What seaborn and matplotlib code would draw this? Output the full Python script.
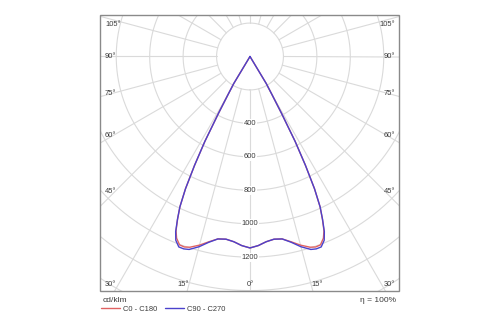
import numpy as np
import pandas as pd
import matplotlib
matplotlib.use("Agg")
import matplotlib.pyplot as plt
from matplotlib.patches import Rectangle
from matplotlib.lines import Line2D
import seaborn as sns

# ---------------- data ----------------
gamma_deg = [0, 2.5, 5, 7.5, 10, 12.5, 15, 17.5, 19, 20.5, 22, 23, 24, 25, 26, 27, 28, 29, 30, 31, 32]
c0_c180 = [1145, 1132, 1112, 1102, 1108, 1135, 1168, 1196, 1205, 1203, 1172, 1132, 1065, 992, 880, 730, 575, 390, 262, 190, 0]
c90_c270 = [1145, 1132, 1112, 1102, 1108, 1138, 1178, 1210, 1217, 1216, 1185, 1138, 1067, 992, 880, 730, 575, 390, 262, 190, 0]
series_names = ["C0 - C180", "C90 - C270"]
series_colors = ["#e06262", "#4b42cc"]
ring_values = [200, 400, 600, 800, 1000, 1200, 1400, 1600, 1800]
ring_labels = [400, 600, 800, 1000, 1200]
spoke_deg = list(range(0, 360, 15))
side_angle_labels = ["105°", "90°", "75°", "60°", "45°", "30°"]
bottom_angle_labels = ["15°", "0°", "15°"]
unit_label = "cd/klm"
efficiency_label = "η = 100%"

# ---------------- style ----------------
sns.set_style("white")
plt.rcParams["font.family"] = ["Liberation Sans", "DejaVu Sans"]
text_c = "#3a3a3a"
grid_c = "#dadada"

W, H = 500, 325
fig = plt.figure(figsize=(5, 3.25), dpi=100)
fig.patch.set_facecolor("white")

def fx(x):
    return x / W

def fy(y):
    return 1 - y / H

cx, cy = 250, 56.5
scale = 0.1672  # px per cd/klm
rmax = 1800
R = rmax * scale
ax = fig.add_axes([(cx - R) / W, (H - cy - R) / H, 2 * R / W, 2 * R / H], projection="polar")
ax.set_theta_zero_location("S")
ax.set_ylim(0, rmax)
ax.set_xticks([])
ax.set_yticks([])
ax.grid(False)
ax.spines["polar"].set_visible(False)
ax.patch.set_visible(False)

box_l, box_t, box_r, box_b = 100, 15, 399, 291
clip = Rectangle((fx(box_l), fy(box_b)), (box_r - box_l) / W, (box_b - box_t) / H,
                 transform=fig.transFigure, fill=False)

# grid rings and spokes
th = np.linspace(0, 2 * np.pi, 1441)
for r in ring_values:
    ax.plot(th, np.full_like(th, r), color=grid_c, lw=0.8, zorder=1)
for d in spoke_deg:
    ax.plot([np.deg2rad(d)] * 2, [ring_values[0], rmax], color=grid_c, lw=0.8, zorder=1)

# curves (left half mirrored from right half)
g = np.array(gamma_deg, dtype=float)
theta = np.deg2rad(np.concatenate([-g[::-1], g[1:]]))

def full(v):
    v = np.asarray(v, dtype=float)
    return np.concatenate([v[::-1], v[1:]])

n = len(theta)
df = pd.DataFrame({
    "theta": np.concatenate([theta, theta]),
    "I": np.concatenate([full(c0_c180), full(c90_c270)]),
    "series": [series_names[0]] * n + [series_names[1]] * n,
})
sns.lineplot(data=df, x="theta", y="I", hue="series", hue_order=series_names,
             palette=series_colors, sort=False, estimator=None, legend=False,
             ax=ax, lw=1.0, zorder=3)
ax.set_xlabel("")
ax.set_ylabel("")
ax.set_ylim(0, rmax)

for ln in ax.get_lines():
    ln.set_clip_path(clip)

# radial value labels along 0°
for v in ring_labels:
    ax.text(0, v, str(v), ha="center", va="center", fontsize=5.4, color=text_c, zorder=2.5,
            bbox=dict(facecolor="white", edgecolor="none", pad=0.8))

# frame
fig.add_artist(Rectangle((fx(box_l), fy(box_b)), (box_r - box_l) / W, (box_b - box_t) / H,
                         transform=fig.transFigure, fill=False, edgecolor="#8a8a8a", lw=1.0))

# angle labels
side_y = [24.5, 56.5, 93.3, 135, 191.7, 284]
for lab, y in zip(side_angle_labels, side_y):
    fig.text(fx(105), fy(y), lab, ha="left", va="center", fontsize=5.4, color=text_c)
    fig.text(fx(395), fy(y), lab, ha="right", va="center", fontsize=5.4, color=text_c)
for lab, x in zip(bottom_angle_labels, [183.3, 250, 316.7]):
    fig.text(fx(x), fy(284), lab, ha="center", va="center", fontsize=5.4, color=text_c)

# unit / efficiency
fig.text(fx(103), fy(300), unit_label, ha="left", va="center", fontsize=6.0, color=text_c)
fig.text(fx(396), fy(300.5), efficiency_label, ha="right", va="center", fontsize=6.0, color=text_c)

handles = [Line2D([0], [0], color=c, lw=1.0) for c in series_colors]
fig.legend(handles, series_names, loc="center left", bbox_to_anchor=(fx(101), fy(309)),
           ncol=2, frameon=False, fontsize=5.4, handlelength=2.5, handletextpad=0.4,
           columnspacing=1.1, borderpad=0, borderaxespad=0, labelcolor=text_c)

fig.savefig("out.png", dpi=100, facecolor="white")
